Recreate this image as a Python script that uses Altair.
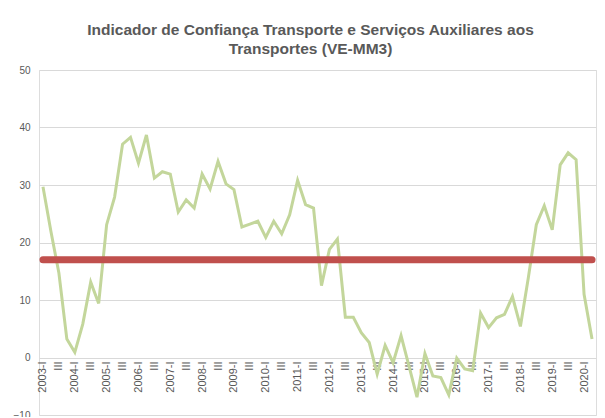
import altair as alt
import pandas as pd

# --- data ---
years = list(range(2003, 2021))
roman = ["I", "II", "III", "IV"]
quarters = [f"{y}-{r}" for y in years for r in roman][:70]  # 2003-I .. 2020-II

values = [
    29.7, 21.9, 14.7, 3.2,    # 2003
    0.9, 5.8, 13.1, 9.4,      # 2004
    23.1, 27.9, 37.1, 38.3,   # 2005
    33.8, 38.7, 31.2, 32.3,   # 2006
    31.9, 25.3, 27.4, 26.0,   # 2007
    31.9, 29.3, 34.1, 30.2,   # 2008
    29.2, 22.7, 23.2, 23.7,   # 2009
    20.9, 23.7, 21.5, 24.8,   # 2010
    30.8, 26.6, 26.0, 12.5,   # 2011
    18.8, 20.6, 7.0, 7.0,     # 2012
    4.3, 2.6, -2.9, 2.1,      # 2013
    -0.9, 3.8, -1.5, -6.9,    # 2014
    0.7, -3.2, -3.5, -6.5,    # 2015
    -0.1, -2.0, -2.3, 7.7,    # 2016
    5.2, 6.9, 7.5, 10.6,      # 2017
    5.4, 13.9, 23.1, 26.4,    # 2018
    22.2, 33.5, 35.6, 34.4,   # 2019
    11.0, 3.2,                # 2020
]
average = 17.0

y_ticks = [-10, 0, 10, 20, 30, 40, 50]
x_ticks = quarters[::2]

title_lines = ["Indicador de Confiança Transporte e Serviços Auxiliares aos",
               "Transportes (VE-MM3)"]

df = pd.DataFrame({"q": quarters, "v": values, "avg": [average] * len(quarters)})

x_enc = alt.X(
    "q:O",
    sort=quarters,
    scale=alt.Scale(type="point", padding=0.5),
    axis=alt.Axis(
        values=x_ticks,
        labelExpr="split(datum.value, '-')[1] == 'I' ? datum.value : split(datum.value, '-')[1]",
        labelAngle=270,
        labelFontSize=11,
        labelColor="#595959",
        labelPadding=4,
        labelFont="Liberation Sans",
        domain=False,
        ticks=False,
        grid=False,
        title=None,
        offset=-58,
        labelOverlap=False,
    ),
)

y_scale = alt.Scale(domain=[-10, 50], nice=False, zero=False)

line = alt.Chart(df).mark_line(color="#C3D69B", strokeWidth=3, strokeJoin="miter").encode(
    x=x_enc,
    y=alt.Y(
        "v:Q",
        scale=y_scale,
        axis=alt.Axis(
            values=y_ticks,
            title=None,
            domain=False,
            ticks=False,
            labelFontSize=10,
            labelColor="#595959",
            labelPadding=9,
            labelFont="Liberation Sans",
            gridColor="#D9D9D9",
            gridWidth=1,
        ),
    ),
)

avg_line = alt.Chart(df).mark_line(color="#C0504D", strokeWidth=7, strokeCap="round").encode(
    x=alt.X("q:O", sort=quarters),
    y=alt.Y("avg:Q", scale=y_scale),
)

chart = (
    alt.layer(line, avg_line)
    .properties(
        width=557,
        height=345,
        title=alt.TitleParams(
            text=title_lines,
            font="Liberation Sans",
            fontSize=15.5,
            fontWeight="bold",
            color="#595959",
            anchor="middle",
            offset=8,
            dx=-7,
            lineHeight=19,
        ),
        autosize=alt.AutoSizeParams(type="none"),
        padding={"left": 31, "top": 62, "right": 1, "bottom": 2},
    )
    .configure_view(stroke=None)
    .configure(background="white")
)

chart.save("out.html", embed_options={"renderer": "svg", "actions": False})
